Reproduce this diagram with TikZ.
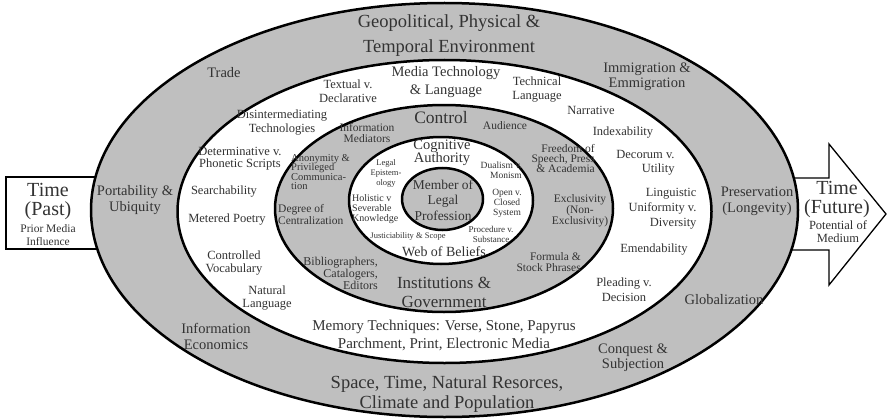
\documentclass[tikz,border=0pt]{standalone}
\usepackage{fontspec}
\setmainfont{Liberation Serif}
\lineskiplimit=-10pt

\begin{document}
\begin{tikzpicture}[x=1pt, y=-1pt,
        ring/.style={line width=2.5pt, draw=black},
        band/.style={ring, fill=gray!50},
        hole/.style={ring, fill=white},
        lbl/.style={text=black!80, align=center, inner sep=0pt},
        bigtxt/.style={lbl, font=\fontsize{18.5}{21}\selectfont},
        outertxt/.style={lbl, font=\fontsize{14.5}{15.5}\selectfont},
        midtxt/.style={lbl, font=\fontsize{12.5}{14}\selectfont},
        ctrltxt/.style={lbl, font=\fontsize{11.5}{11.5}\selectfont},
        cogtxt/.style={lbl, font=\fontsize{9.5}{10}\selectfont}]
        \useasboundingbox (0,0) rectangle (889,420);

        \coordinate (c1) at (444.5,210);
        \coordinate (c2) at (444.5,211.5);
        \coordinate (c3) at (444,208.5);
        \coordinate (c4) at (441,200.5);
        \coordinate (c5) at (442.5,199);

        % past and future, behind the rings
        \draw[line width=1.6pt, fill=white] (6,177) rectangle (120,249);
        \draw[line width=1.3pt, fill=white] (780,178) -- (829,178) -- (829,144) -- (886,214) -- (829,285) -- (829,250) -- (780,250) -- cycle;

        \filldraw[band] (c1) ellipse [x radius=353.5, y radius=207];
        \filldraw[hole] (c2) ellipse [x radius=267, y radius=151.5];
        \filldraw[band] (c3) ellipse [x radius=169, y radius=103.5];
        \filldraw[hole] (c4) ellipse [x radius=92, y radius=63.5];
        \filldraw[band] (c5) ellipse [x radius=40.5, y radius=31];

        \node[lbl, font=\fontsize{20}{18.5}\selectfont] (past) at (48,201.5) {Time\\(Past)};
        \node[lbl, font=\fontsize{11.5}{13}\selectfont] (prior) at (48,235.5) {Prior Media\\Influence};
        \node[lbl, font=\fontsize{20}{18.5}\selectfont] (future) at (837,199.5) {Time\\(Future)};
        \node[lbl, font=\fontsize{12.5}{13}\selectfont] (potential) at (838,231.5) {Potential of\\Medium};

        % outer ring
        \node[bigtxt, font=\fontsize{18.5}{25}\selectfont] (geo) at (449,35.5) {Geopolitical, Physical \&\\Temporal Environment};
        \node[bigtxt, font=\fontsize{18.5}{20.5}\selectfont] (earth) at (447,394) {Space, Time, Natural Resorces,\\Climate and Population};
        \node[outertxt] (trade) at (224,73) {Trade};
        \node[outertxt] (immig) at (647,76.5) {Immigration \&\\Emmigration};
        \node[outertxt] (port) at (135,200) {Portability \&\\Ubiquity};
        \node[outertxt] (preserv) at (757,201.5) {Preservation\\(Longevity)};
        \node[outertxt] (infoecon) at (216,336.5) {Information\\Economics};
        \node[outertxt] (glob) at (724,300) {Globalization};
        \node[outertxt] (conq) at (633,357.5) {Conquest \&\\Subjection};

        % media ring
        \node[lbl, font=\fontsize{14.5}{18}\selectfont] (media) at (446,82) {Media Technology\\\& Language};
        \node[midtxt] (textual) at (348,91) {Textual v.\\Declarative};
        \node[midtxt] (techlang) at (537,90) {Technical\\Language};
        \node[midtxt] (disinter) at (282,122.5) {Disintermediating\\Technologies};
        \node[midtxt] (narr) at (591,110) {Narrative};
        \node[midtxt] (index) at (623,133) {Indexability};
        \node[midtxt, font=\fontsize{12.5}{12}\selectfont] (determ) at (240,158.5) {Determinative v.\\Phonetic Scripts};
        \node[midtxt, align=right] (decorum) at (645.5,162.5) {Decorum v.\\Utility};
        \node[midtxt] (search) at (224,192) {Searchability};
        \node[midtxt, align=right, font=\fontsize{12.5}{15}\selectfont] (lingu) at (662.5,209) {Linguistic\\Uniformity v.\\Diversity};
        \node[midtxt] (meter) at (227,220) {Metered Poetry};
        \node[midtxt] (emend) at (654,250) {Emendability};
        \node[midtxt, font=\fontsize{12.5}{12.5}\selectfont] (vocab) at (234,263) {Controlled\\Vocabulary};
        \node[midtxt, font=\fontsize{12.5}{15}\selectfont] (plead) at (624,289.5) {Pleading v.\\Decision};
        \node[midtxt, font=\fontsize{12.5}{12.5}\selectfont] (natlang) at (267,298) {Natural\\Language};
        \node[lbl, font=\fontsize{15}{18}\selectfont] (memory) at (444,335) {Memory Techniques: Verse, Stone, Papyrus\\Parchment, Print, Electronic Media};

        % control ring
        \node[lbl, font=\fontsize{17.5}{20}\selectfont] (control) at (441,118) {Control};
        \node[ctrltxt] (infomed) at (367,133) {Information\\Mediators};
        \node[ctrltxt] (audience) at (505,126) {Audience};
        \node[ctrltxt, align=left, anchor=west, font=\fontsize{10.5}{9.2}\selectfont] (anonym) at (291,172) {Anonymity \&\\Privileged\\Communica-\\tion};
        \node[ctrltxt, align=right, anchor=east, font=\fontsize{11.5}{10}\selectfont] (freedom) at (595,159) {Freedom of\\Speech, Press\\\& Academia};
        \node[ctrltxt, align=left, anchor=west] (degree) at (278,214.5) {Degree of\\Centralization};
        \node[ctrltxt, font=\fontsize{11.5}{11}\selectfont] (exclus) at (580,211) {Exclusivity\\(Non-\\Exclusivity)};
        \node[ctrltxt, align=right, anchor=east, font=\fontsize{12}{12}\selectfont] (biblio) at (378,273) {Bibliographers,\\Catalogers,\\Editors};
        \node[ctrltxt, align=right, anchor=east] (formula) at (581,262) {Formula \&\\Stock Phrases};
        \node[lbl, font=\fontsize{17}{19}\selectfont] (instit) at (444,292.5) {Institutions \&\\Government};

        % cognitive ring
        \node[lbl, font=\fontsize{14.5}{13}\selectfont] (cogauth) at (442,152.5) {Cognitive\\Authority};
        \node[cogtxt, font=\fontsize{8.5}{10}\selectfont] (legalep) at (386,173) {Legal\\Epistem-\\ology};
        \node[cogtxt, align=right, anchor=east] (dualism) at (522,170) {Dualism v.\\Monism};
        \node[cogtxt, align=left, anchor=west, font=\fontsize{10}{10}\selectfont] (holistic) at (352,209) {Holistic v\\Severable\\Knowledge};
        \node[cogtxt] (openclosed) at (507,203) {Open v.\\Closed\\System};
        \node[cogtxt, font=\fontsize{8.5}{10}\selectfont] (justic) at (408,236) {Justiciability \& Scope};
        \node[cogtxt, font=\fontsize{9}{9.5}\selectfont] (proced) at (491,234.5) {Procedure v.\\Substance};
        \node[lbl, font=\fontsize{14}{16}\selectfont] (web) at (444,252) {Web of Beliefs};

        % centre
        \node[lbl, font=\fontsize{13.5}{15.5}\selectfont] (member) at (443,200) {Member of\\Legal\\Profession};
\end{tikzpicture}
\end{document}
